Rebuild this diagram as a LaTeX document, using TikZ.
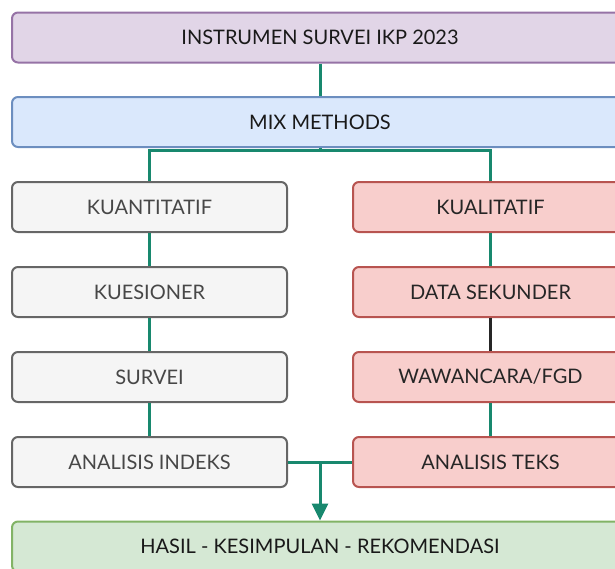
\documentclass[tikz,border=0pt]{standalone}
\usepackage{fontspec}
\setmainfont{Lato}
\usetikzlibrary{arrows.meta}
\definecolor{teal1}{RGB}{24,136,110}
\definecolor{purplefill}{HTML}{E1D5E7}
\definecolor{purpleline}{HTML}{9673A6}
\definecolor{bluefill}{HTML}{DAE8FC}
\definecolor{blueline}{HTML}{6C8EBF}
\definecolor{grayfill}{HTML}{F5F5F5}
\definecolor{grayline}{HTML}{666666}
\definecolor{redfill}{HTML}{F8CECC}
\definecolor{redline}{HTML}{B85450}
\definecolor{greenfill}{HTML}{D5E8D4}
\definecolor{greenline}{HTML}{82B366}
\tikzset{
  box/.style={draw, line width=2pt, rounded corners=6pt, minimum height=50pt,
    inner sep=0pt, font=\fontsize{20}{22}\selectfont},
  widebox/.style={box, minimum width=616pt, text=black!90},
  colbox/.style={box, minimum width=275pt},
  quant/.style={colbox, fill=grayfill, draw=grayline, text=black!72},
  qual/.style={colbox, fill=redfill, draw=redline, text=black!85},
  link/.style={teal1, line width=3pt}
}

\begin{document}
\begin{tikzpicture}[x=1pt, y=-1pt]
		%%%%% START %%%%%
		\useasboundingbox (0, 0) rectangle (615, 568);
		\clip (0, 0) rectangle (615, 568);
		
		\node[widebox, fill=purplefill, draw=purpleline] (instrumen) at (320, 37.5) {INSTRUMEN SURVEI IKP 2023};
		\node[widebox, fill=bluefill, draw=blueline] (mix) at (320, 122) {MIX METHODS};
		
		\node[quant] (kuan) at (149.5, 207) {KUANTITATIF};
		\node[quant] (kuesioner) at (149.5, 292) {KUESIONER};
		\node[quant] (survei) at (149.5, 377) {SURVEI};
		\node[quant] (indeks) at (149.5, 462) {ANALISIS INDEKS};
		
		\node[qual] (kual) at (490.5, 207) {KUALITATIF};
		\node[qual] (sekunder) at (490.5, 292) {DATA SEKUNDER};
		\node[qual] (wawancara) at (490.5, 377) {WAWANCARA/FGD};
		\node[qual] (teks) at (490.5, 462) {ANALISIS TEKS};
		
		\node[widebox, fill=greenfill, draw=greenline] (hasil) at (320, 546.5) {HASIL - KESIMPULAN - REKOMENDASI};
		
		\draw[link] (instrumen) -- (mix);
		\draw[link] (mix.south) -- ++(0, 2) -| (kuan.north);
		\draw[link] (mix.south) -- ++(0, 2) -| (kual.north);
		
		\draw[link] (kuan) -- (kuesioner);
		\draw[link] (kuesioner) -- (survei);
		\draw[link] (survei) -- (indeks);
		
		\draw[link] (kual) -- (sekunder);
		\draw[link, black!85] (sekunder) -- (wawancara);
		\draw[link] (wawancara) -- (teks);
		
		\draw[link] (indeks) -- (teks);
		\coordinate (join) at (indeks.east -| hasil.north);
		\draw[link, -{Triangle[width=16pt, length=17pt]}] (join) -- (hasil.north);
		%%%%% END %%%%%
\end{tikzpicture}
\end{document}
